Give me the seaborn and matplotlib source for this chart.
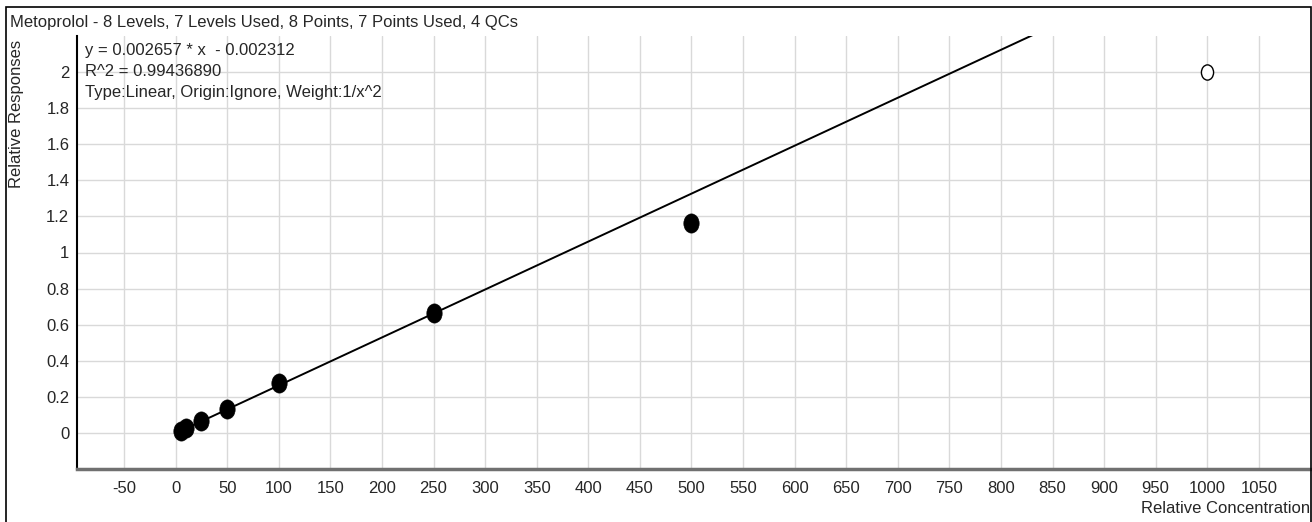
import numpy as np
import pandas as pd
import matplotlib
matplotlib.use("Agg")
import matplotlib.pyplot as plt
from matplotlib.patches import Rectangle
from matplotlib.path import Path
from matplotlib.transforms import Affine2D
import seaborn as sns

# calibration levels (used) and the excluded level
conc_used = [5, 10, 25, 50, 100, 250, 500]
resp_used = [0.008, 0.026, 0.066, 0.132, 0.275, 0.662, 1.165]
conc_excluded = [1000]
resp_excluded = [2.0]

slope = 0.002657
intercept = -0.002312
fit_range = [5, 1000]

title = "Metoprolol - 8 Levels, 7 Levels Used, 8 Points, 7 Points Used, 4 QCs"
eq_lines = [
    "y = 0.002657 * x  - 0.002312",
    "R^2 = 0.99436890",
    "Type:Linear, Origin:Ignore, Weight:1/x^2",
]
x_ticks = list(range(-50, 1051, 50))
y_ticks = [0, 0.2, 0.4, 0.6, 0.8, 1, 1.2, 1.4, 1.6, 1.8, 2]
y_ticklabels = ["0", "0.2", "0.4", "0.6", "0.8", "1", "1.2", "1.4", "1.6", "1.8", "2"]

sns.set_style("whitegrid")
plt.rcParams["font.family"] = ["Liberation Sans", "DejaVu Sans"]
plt.rcParams["font.size"] = 12
plt.rcParams["axes.unicode_minus"] = False

W, H = 1312, 522
fig = plt.figure(figsize=(W / 100, H / 100), dpi=100)
ax = fig.add_axes([77 / W, 53 / H, 1233 / W, 433 / H])

# slightly tall ellipse marker, like the instrument software draws
ellipse = Path.unit_circle().transformed(Affine2D().scale(0.8, 1.0))

fit = pd.DataFrame({"x": fit_range})
fit["y"] = slope * fit["x"] + intercept
sns.lineplot(data=fit, x="x", y="y", color="black", linewidth=1.4, ax=ax)

used = pd.DataFrame({"x": conc_used, "y": resp_used})
sns.scatterplot(data=used, x="x", y="y", color="black", marker=ellipse,
                s=190, edgecolor="black", linewidth=0.5, ax=ax, zorder=3)
excl = pd.DataFrame({"x": conc_excluded, "y": resp_excluded})
sns.scatterplot(data=excl, x="x", y="y", facecolor="white", marker=ellipse,
                s=120, edgecolor="black", linewidth=1.0, ax=ax, zorder=3)

ax.set_xlim(-95.6, 1099.6)
ax.set_ylim(-0.2, 2.2)
ax.set_xticks(x_ticks)
ax.set_yticks(y_ticks)
ax.set_yticklabels(y_ticklabels)
ax.grid(True, color="#d9d9d9", linewidth=1)
ax.tick_params(axis="both", labelsize=12, length=4.5, width=1, color="black",
               direction="out", pad=1)
ax.tick_params(axis="x", pad=4)

for side in ["top", "right"]:
    ax.spines[side].set_visible(False)
ax.spines["left"].set_color("black")
ax.spines["left"].set_linewidth(1.5)
ax.spines["bottom"].set_color("#707070")
ax.spines["bottom"].set_linewidth(2.5)

ax.set_xlabel("Relative Concentration", loc="right", fontsize=12, labelpad=4)
ax.set_ylabel("Relative Responses", fontsize=12)
ax.yaxis.set_label_coords(-60 / 1233, (469 - 40) / 433)
ax.yaxis.label.set_verticalalignment("center")
ax.yaxis.label.set_horizontalalignment("right")

for i, line in enumerate(eq_lines):
    fig.text(85 / W, 1 - (50 + 21.5 * i) / H, line, fontsize=12,
             va="center", ha="left")

fig.text(10 / W, 1 - 22 / H, title, fontsize=12, va="center", ha="left")
fig.patches.append(Rectangle((6 / W, -0.01), 1305 / W, 1 - 7 / H + 0.01,
                             transform=fig.transFigure, fill=False,
                             edgecolor="black", linewidth=1.2))

fig.savefig("out.png", dpi=100)
